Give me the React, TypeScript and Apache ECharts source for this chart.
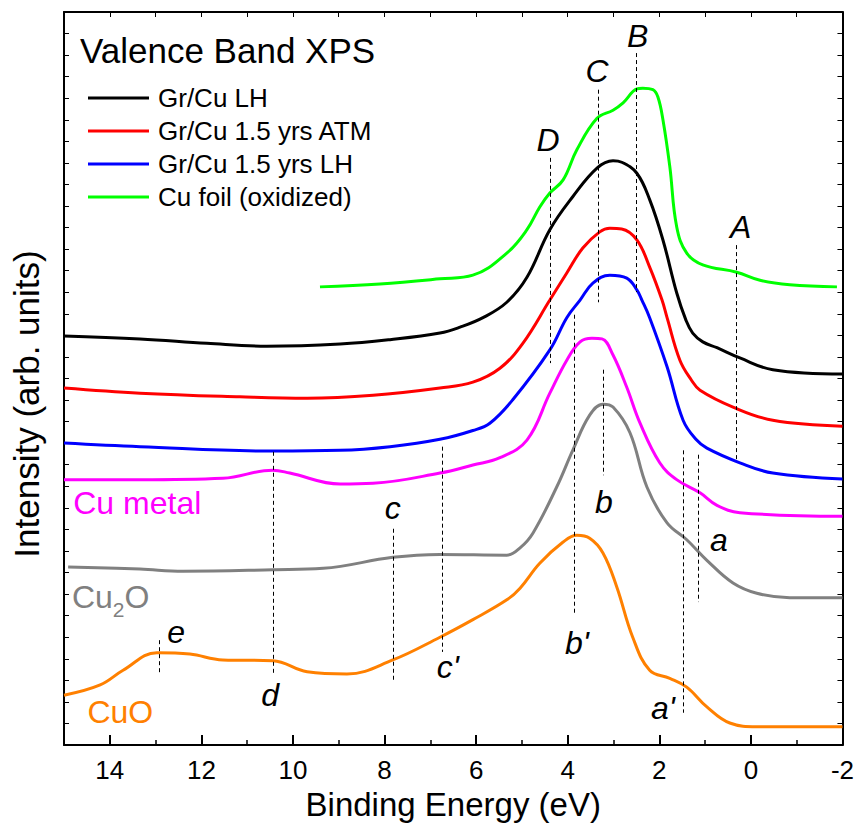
import { useEffect, useRef } from "react";
import * as echarts from "echarts";

const FONT = "'Liberation Sans', Arial, Helvetica, sans-serif";

// Binding energy (eV) vs intensity (arb. units, offset for display)
const grCuLH = [[15.0,55.8],[13.34,55.4],[11.88,54.8],[10.57,54.4],[8.97,54.7],[7.88,55.3],[6.79,56.2],[6.35,57.0],[5.85,58.3],[5.33,60.4],[4.89,63.8],[4.39,70.3],[3.89,74.8],[3.36,78.7],[3.01,79.7],[2.82,79.5],[2.49,78.0],[2.21,74.4],[1.92,68.9],[1.62,61.7],[1.42,58.0],[1.27,56.2],[1.05,55.0],[0.74,54.2],[0.24,52.8],[-0.48,51.2],[-2.0,50.6]];
const grCu15ATM = [[15.0,48.7],[13.34,48.0],[11.16,47.5],[9.69,47.3],[8.25,47.7],[6.79,48.7],[6.07,49.5],[5.48,51.4],[4.98,54.8],[4.39,60.7],[4.02,64.4],[3.67,67.8],[3.30,70.0],[3.08,70.5],[2.82,70.4],[2.49,68.9],[2.21,65.2],[1.94,60.7],[1.83,58.3],[1.55,52.5],[1.30,49.8],[1.11,48.4],[0.39,46.1],[-0.48,44.3],[-2.0,43.5]];
const grCu15LH = [[15.0,41.2],[13.34,40.7],[10.44,40.1],[8.97,40.2],[7.88,40.7],[6.79,41.7],[6.07,42.9],[5.70,43.9],[5.20,47.1],[4.39,53.9],[4.02,58.3],[3.73,60.7],[3.45,63.0],[3.08,64.1],[2.71,63.7],[2.49,62.1],[2.38,60.7],[2.21,58.3],[1.83,51.6],[1.48,44.3],[1.20,41.7],[0.96,40.5],[0.24,38.5],[-0.48,37.1],[-2.0,36.3]];
const cuFoilOx = [[9.41,62.5],[8.10,62.9],[6.79,63.6],[6.07,64.1],[5.33,67.1],[4.89,70.3],[4.61,73.4],[4.39,75.3],[4.10,77.1],[3.80,81.2],[3.36,85.5],[3.01,86.6],[2.79,87.6],[2.49,89.5],[2.36,89.6],[2.14,89.4],[2.03,88.4],[1.92,85.3],[1.77,78.9],[1.62,70.7],[1.40,67.1],[1.05,65.5],[0.31,64.5],[-0.20,63.4],[-0.85,62.8],[-1.88,62.5]];
const cuMetal = [[15.0,36.2],[13.34,36.2],[11.53,36.4],[10.44,37.5],[10.07,37.1],[8.97,35.6],[8.25,35.7],[6.79,37.1],[6.07,38.2],[5.48,39.2],[4.89,41.6],[4.39,48.0],[4.02,52.5],[3.73,55.0],[3.47,55.5],[3.25,55.4],[3.01,53.2],[2.71,48.8],[2.42,43.9],[1.99,38.5],[1.62,36.2],[1.11,34.4],[0.74,32.7],[0.24,31.7],[-2.0,31.2]];
const cu2O = [[14.91,24.3],[13.34,24.0],[12.40,23.7],[10.44,23.9],[9.34,24.1],[7.82,25.6],[6.79,26.0],[5.33,25.9],[5.04,26.9],[4.76,28.9],[4.24,35.2],[3.89,40.2],[3.52,45.0],[3.23,46.5],[3.01,46.1],[2.64,42.6],[2.27,35.2],[1.83,30.3],[1.40,28.0],[0.96,25.2],[0.39,22.1],[-0.13,20.7],[-0.85,20.1],[-2.0,20.1]];
const cuO = [[15.0,6.8],[14.21,8.2],[13.71,10.2],[12.97,12.6],[12.25,12.4],[11.53,11.6],[10.44,11.5],[9.69,10.0],[8.82,9.7],[7.82,11.6],[6.79,14.7],[6.07,17.1],[5.33,19.8],[5.04,21.4],[4.61,24.8],[4.10,27.7],[3.80,28.6],[3.52,28.2],[3.23,26.2],[2.93,21.6],[2.58,14.7],[2.21,10.2],[1.77,9.1],[1.40,7.9],[0.96,5.2],[0.46,3.0],[-0.13,2.5],[-2.0,2.5]];

// feature markers: energy, top and bottom of the dashed guide
const featureEnergies = [4.39, 3.34, 2.51, 0.31, 3.86, 3.23, 1.48, 1.14, 10.44, 7.82, 6.75, 12.93];
const featureTops = [80.1, 89.4, 94.4, 68.2, 58.7, 51.2, 40.2, 39.6, 40.0, 29.5, 40.7, 14.3];
const featureBottoms = [52.1, 60.4, 61.8, 38.9, 17.7, 36.8, 4.4, 19.5, 9.8, 8.9, 12.7, 9.7];

// feature letters
const letterTexts = ["B", "C", "D", "A", "b", "a", "c", "b'", "a'", "c'", "d", "e"];
const letterE = [2.47, 3.36, 4.43, 0.22, 3.21, 0.70, 7.82, 3.80, 1.92, 6.62, 10.50, 12.55];
const letterV = [96.7, 91.9, 82.5, 70.7, 33.2, 28.0, 32.3, 13.9, 5.0, 10.6, 6.8, 15.4];

// reference spectra names
const refTexts = ["Cu metal", "Cu{s|2}O", "CuO"];
const refColors = ["#ff00ff", "#808080", "#ff8000"];
const refE = [13.40, 13.98, 13.77];
const refV = [33.0, 20.2, 4.5];

const seriesNames = ["Gr/Cu LH", "Gr/Cu 1.5 yrs ATM", "Gr/Cu 1.5 yrs LH", "Cu foil (oxidized)"];

export default function App() {
  const ref = useRef<HTMLDivElement>(null);
  useEffect(() => {
    if (!ref.current) return;
    const chart = echarts.init(ref.current, null, { renderer: "svg" });
    const line = (name: string, data: number[][], color: string) => ({
      name,
      type: "line",
      data,
      smooth: 0.4,
      symbol: "none",
      showSymbol: false,
      lineStyle: { color, width: 3 },
      itemStyle: { color },
      z: 3,
    });
    const axisCommon = {
      type: "value",
      axisLine: { show: true, onZero: false, lineStyle: { color: "#000", width: 2 } },
      splitLine: { show: false },
    };
    const textLabel = (t: string, color: string, size: number, italic: boolean, rich?: any) => ({
      show: true,
      position: [0, 0],
      align: "center",
      verticalAlign: "middle",
      formatter: t,
      fontSize: size,
      fontStyle: italic ? "italic" : "normal",
      color,
      opacity: 1,
      fontFamily: FONT,
      textBorderWidth: 0,
      rich,
    });
    chart.setOption({
      animation: false,
      backgroundColor: "#fff",
      textStyle: { fontFamily: FONT },
      title: {
        text: "Valence Band XPS",
        left: 75,
        top: 28,
        textStyle: { fontSize: 35, fontWeight: "normal", color: "#000", fontFamily: FONT },
      },
      legend: {
        data: seriesNames,
        orient: "vertical",
        left: 83,
        top: 80,
        icon: "rect",
        itemWidth: 61,
        itemHeight: 3,
        itemGap: 7,
        textStyle: { fontSize: 26, color: "#000", fontFamily: FONT, padding: [0, 0, 0, 4] },
      },
      grid: { left: 64, right: 14, top: 12, bottom: 81 },
      xAxis: [
        {
          ...axisCommon,
          position: "bottom",
          min: -2,
          max: 15,
          interval: 2,
          inverse: true,
          name: "Binding Energy (eV)",
          nameLocation: "middle",
          nameGap: 43,
          nameTextStyle: { fontSize: 33, color: "#000", fontFamily: FONT },
          axisTick: { show: true, inside: true, length: 10, lineStyle: { color: "#000", width: 2 } },
          minorTick: { show: true, splitNumber: 2, length: 5, lineStyle: { color: "#000", width: 1.5 } },
          axisLabel: {
            show: true,
            fontSize: 26,
            color: "#000",
            margin: 12,
            fontFamily: FONT,
            showMinLabel: true,
            showMaxLabel: true,
            formatter: (v: number) => (v > 14 ? "" : String(v)),
          },
        },
        {
          ...axisCommon,
          position: "top",
          min: -2,
          max: 15,
          interval: 1,
          inverse: true,
          axisTick: { show: true, inside: true, length: 5, lineStyle: { color: "#000", width: 1 } },
          axisLabel: { show: false },
        },
      ],
      yAxis: [
        {
          ...axisCommon,
          position: "left",
          min: 0,
          max: 100,
          interval: 100 / 34,
          axisTick: { show: true, inside: true, length: 5, lineStyle: { color: "#000", width: 1 } },
          axisLabel: { show: false },
        },
        {
          ...axisCommon,
          position: "right",
          min: 0,
          max: 100,
          interval: 100 / 34,
          axisTick: { show: true, inside: true, length: 5, lineStyle: { color: "#000", width: 1 } },
          axisLabel: { show: false },
        },
      ],
      graphic: [
        {
          type: "text",
          x: 26,
          y: 404,
          rotation: Math.PI / 2,
          style: {
            text: "Intensity (arb. units)",
            fontSize: 35,
            fontFamily: FONT,
            fill: "#000",
            textAlign: "center",
            textVerticalAlign: "middle",
          },
        },
      ],
      series: [
        line(seriesNames[0], grCuLH, "#000000"),
        line(seriesNames[1], grCu15ATM, "#ff0000"),
        line(seriesNames[2], grCu15LH, "#0000ff"),
        line(seriesNames[3], cuFoilOx, "#00ff00"),
        line("Cu metal", cuMetal, "#ff00ff"),
        line("Cu2O", cu2O, "#808080"),
        line("CuO", cuO, "#ff8000"),
        {
          name: "features",
          type: "scatter",
          symbolSize: 0,
          itemStyle: { color: "#000", opacity: 1 },
          silent: true,
          z: 5,
          data: letterTexts.map((t, i) => ({
            value: [letterE[i], letterV[i]],
            label: textLabel(t, "#000", 32, true),
          })),
          markLine: {
            silent: true,
            symbol: ["none", "none"],
            label: { show: false },
            lineStyle: { type: [4, 3], color: "#000", width: 1, opacity: 1 },
            data: featureEnergies.map((e, i) => [
              { coord: [e, featureTops[i]] },
              { coord: [e, featureBottoms[i]] },
            ]),
          },
        },
        {
          name: "refs",
          type: "scatter",
          symbolSize: 0,
          itemStyle: { color: "#000", opacity: 1 },
          silent: true,
          z: 5,
          data: refTexts.map((t, i) => ({
            value: [refE[i], refV[i]],
            label: textLabel(t, refColors[i], 32, false, {
              s: { fontSize: 21, color: refColors[i], fontFamily: FONT, padding: [26, 0, 0, 0] },
            }),
          })),
        },
      ],
    });
    return () => chart.dispose();
  }, []);
  return (
    <div
      ref={ref}
      style={{ position: "fixed", left: 0, top: 0, width: 857, height: 826, background: "#fff" }}
    />
  );
}
